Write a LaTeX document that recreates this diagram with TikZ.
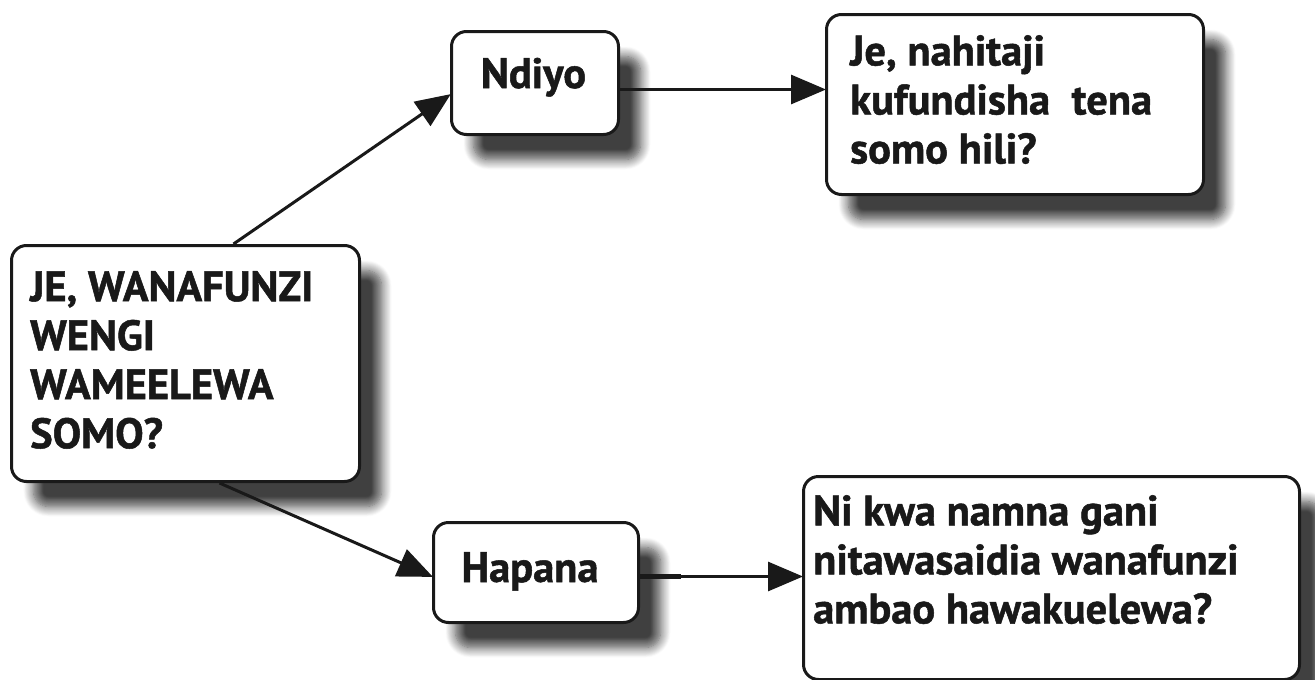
\documentclass[tikz,border=0pt]{standalone}
\usepackage{fontspec}
\setmainfont{PT Sans}[BoldFeatures={FakeBold=1.2}]
\usetikzlibrary{arrows.meta,shadows.blur,calc}
\tikzset{
  box/.style={draw=black!90, line width=3pt, rounded corners=15pt, fill=white, anchor=north west,
    inner sep=0pt,
    blur shadow={shadow xshift=22pt, shadow yshift=-25pt, shadow blur radius=10pt,
      shadow blur steps=12, shadow opacity=75, shadow blur extra rounding=3pt}},
  txt/.style={font=\fontsize{42.5}{49}\selectfont\bfseries, inner sep=0pt, align=left, text=black!90},
  arr/.style={line width=3pt, draw=black!90, -{Triangle[length=35pt,width=29pt]}, shorten >=-1pt},
}
\begin{document}
\begin{tikzpicture}[x=1pt,y=-1pt]
\useasboundingbox (0,0) rectangle (1315,680);
% boxes
\node[box, minimum width=348pt, minimum height=236pt] (main) at (10,244) {};
\node[box, minimum width=167pt, minimum height=103pt] (ndiyo) at (450,30) {};
\node[box, minimum width=377pt, minimum height=180pt] (tr) at (825,13) {};
\node[box, minimum width=205pt, minimum height=100pt] (hapana) at (432,521) {};
\node[box, minimum width=496pt, minimum height=203pt] (br) at (802,475) {};
% texts
\node[txt, anchor=north west] (tmain) at (30,271) {JE, WANAFUNZI\\WENGI\\WAMEELEWA\\SOMO?};
\node[txt, anchor=base] (tndiyo) at (533.5,88) {Ndiyo};
\node[txt, anchor=north west] (ttr) at (850,35) {Je, nahitaji\\kufundisha\ \ tena\\somo hili?};
\node[txt, anchor=base] (thapana) at (530,582) {Hapana};
\node[txt, anchor=north west] (tbr) at (813,495) {Ni kwa namna gani\\nitawasaidia wanafunzi\\ambao hawakuelewa?};
% connectors
\draw[arr] ([xshift=48pt]main.north) -- ($(ndiyo.north west)!0.61!(ndiyo.south west)$);
\draw[arr] ([yshift=-6.5pt]ndiyo.east) -- ([yshift=-6.5pt]ndiyo.east -| tr.west);
\draw[arr] ([xshift=34pt]main.south) -- ([yshift=-4pt]hapana.west);
\draw[arr] ([yshift=-4pt]hapana.east) -- ([yshift=-4pt]hapana.east -| br.west);
\draw[line width=4.5pt, draw=black!90] ([yshift=-4pt]hapana.east) -- ([yshift=-4pt,xshift=41pt]hapana.east);
\end{tikzpicture}
\end{document}
